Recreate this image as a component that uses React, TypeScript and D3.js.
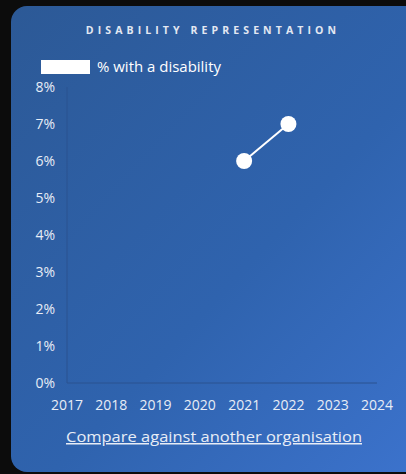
import React from "react";
import * as d3 from "d3";

const years = [2017, 2018, 2019, 2020, 2021, 2022, 2023, 2024];
const dataYears = [2021, 2022];
const dataValues = [6, 7];
const yTicks = [0, 1, 2, 3, 4, 5, 6, 7, 8];
const title = "DISABILITY REPRESENTATION";
const legendLabel = "% with a disability";
const linkText = "Compare against another organisation";

export default function App() {
  const W = 406, H = 474;
  const x = d3.scalePoint<number>().domain(years).range([67, 377]);
  const y = d3.scaleLinear().domain([0, 8]).range([383, 87]);
  const line = d3.line<number>().x((_, i) => x(dataYears[i])!).y((d) => y(d));
  const font = "'Open Sans', 'DejaVu Sans', sans-serif";
  return (
    <svg width={W} height={H} style={{ position: "fixed", left: 0, top: 0, display: "block" }}>
      <defs>
        <linearGradient id="bg" x1="0" y1="0" x2="1" y2="1">
          <stop offset="0%" stopColor="#2c5996" />
          <stop offset="55%" stopColor="#2f63ae" />
          <stop offset="100%" stopColor="#3d74cf" />
        </linearGradient>
      </defs>
      <rect x={0} y={0} width={W} height={H} fill="#0c0c0c" />
      <rect x={11} y={6} width={W + 30} height={H - 8} rx={16} fill="url(#bg)" />
      <text x={213} y={34} textAnchor="middle" fill="#e3e8f2" fontFamily={font} fontSize={10.5} fontWeight={700} letterSpacing={4.1}>
        {title}
      </text>
      <rect x={41} y={60} width={49} height={14} fill="#ffffff" />
      <text x={97} y={72} fill="#ffffff" fontFamily={font} fontSize={14.5} textLength={124} lengthAdjust="spacingAndGlyphs">{legendLabel}</text>
      <line x1={67} x2={67} y1={87} y2={383} stroke="#2a5290" strokeWidth={1} />
      <line x1={67} x2={377} y1={383} y2={383} stroke="#2a5290" strokeWidth={1} />
      {yTicks.map((t) => (
        <text key={t} x={55} y={y(t) + 5} textAnchor="end" fill="#e8edf6" fontFamily={font} fontSize={14}>
          {t}%
        </text>
      ))}
      {years.map((yr) => (
        <text key={yr} x={x(yr)} y={410} textAnchor="middle" fill="#e8edf6" fontFamily={font} fontSize={14}>
          {yr}
        </text>
      ))}
      <path d={line(dataValues) || ""} fill="none" stroke="#ffffff" strokeWidth={2} />
      {dataValues.map((v, i) => (
        <circle key={i} cx={x(dataYears[i])} cy={y(v)} r={8} fill="#ffffff" />
      ))}
      <text x={214} y={442} textAnchor="middle" fill="#e8edf6" fontFamily={font} fontSize={15} textDecoration="underline" textLength={296} lengthAdjust="spacingAndGlyphs">
        {linkText}
      </text>
    </svg>
  );
}
